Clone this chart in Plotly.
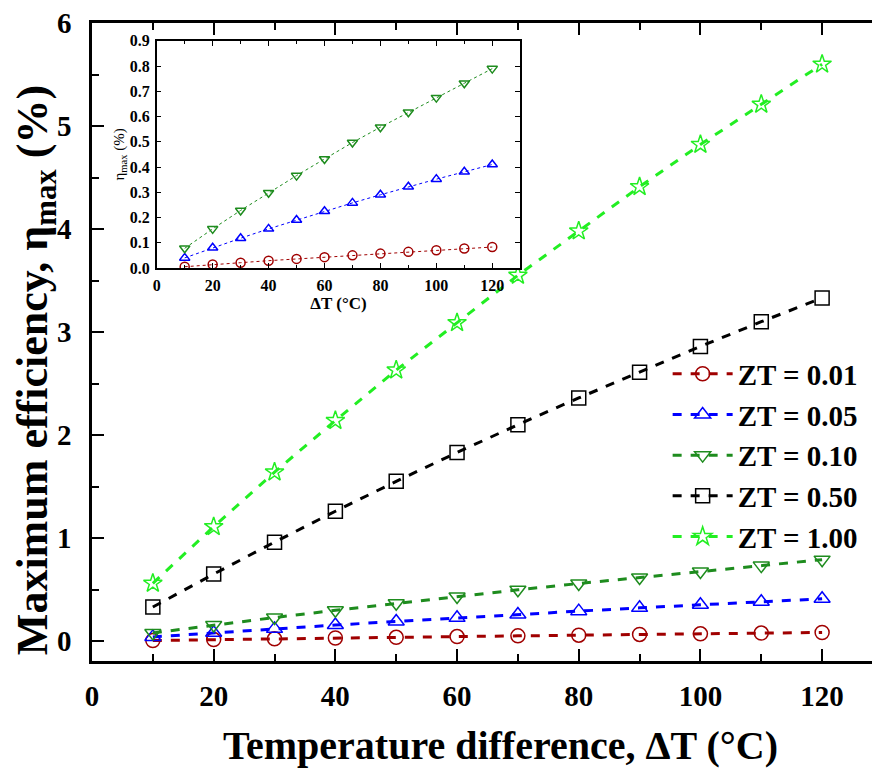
import plotly.graph_objects as go

dT = [10, 20, 30, 40, 50, 60, 70, 80, 90, 100, 110, 120]
eta_001 = [0.005, 0.014, 0.021, 0.029, 0.036, 0.043, 0.050, 0.057, 0.064, 0.070, 0.077, 0.083]
eta_005 = [0.040, 0.080, 0.118, 0.155, 0.190, 0.225, 0.258, 0.290, 0.322, 0.352, 0.381, 0.410]
eta_010 = [0.078, 0.155, 0.228, 0.298, 0.366, 0.432, 0.497, 0.558, 0.617, 0.675, 0.732, 0.790]
eta_050 = [0.33, 0.65, 0.96, 1.26, 1.55, 1.83, 2.10, 2.36, 2.61, 2.86, 3.10, 3.33]
eta_100 = [0.56, 1.11, 1.64, 2.14, 2.63, 3.09, 3.55, 3.98, 4.41, 4.82, 5.21, 5.60]

names = ["ZT = 0.01", "ZT = 0.05", "ZT = 0.10", "ZT = 0.50", "ZT = 1.00"]
series = [eta_001, eta_005, eta_010, eta_050, eta_100]
colors = ["#A00000", "#0000FF", "#1E8C1E", "#000000", "#22EE22"]
symbols = ["circle-open", "triangle-up-open", "triangle-down-open", "square-open", "star-open"]

x_title = "Temperature difference, ΔT (°C)"
y_title = "Maximum efficiency, η<sub>max</sub> (%)"

FONT = "Liberation Serif"
fig = go.Figure()

for n, s, c, m in zip(names, series, colors, symbols):
    fig.add_trace(go.Scatter(
        x=dT, y=s, name=n, mode="lines+markers",
        line=dict(color=c, width=3, dash="dash"),
        marker=dict(symbol=m, size=14, color=c, line=dict(width=1.5, color=c)),
        xaxis="x", yaxis="y"))

for n, s, c, m in zip(names[:3], series[:3], colors[:3], symbols[:3]):
    fig.add_trace(go.Scatter(
        x=dT, y=s, name=n, mode="lines+markers", showlegend=False,
        line=dict(color=c, width=1, dash="dot"),
        marker=dict(symbol=m, size=9, color=c, line=dict(width=1.5, color=c)),
        xaxis="x2", yaxis="y2"))

tickfont_main = dict(family=FONT, size=29, color="black", weight="bold")
fig.update_layout(
    width=872, height=771,
    margin=dict(l=92, r=0, t=23, b=110),
    plot_bgcolor="white", paper_bgcolor="white",
    font=dict(family=FONT, color="black"),
    xaxis=dict(
        range=[0, 128.2], domain=[0, 1],
        tickvals=[0, 20, 40, 60, 80, 100, 120],
        ticks="inside", ticklen=12, tickwidth=2, tickcolor="black",
        minor=dict(tickvals=[10, 30, 50, 70, 90, 110], ticks="inside", ticklen=7, tickwidth=2, tickcolor="black"),
        showline=True, linewidth=2.5, linecolor="black", mirror="ticks",
        showgrid=False, zeroline=False,
        tickfont=tickfont_main, ticklabelstandoff=7,
    ),
    yaxis=dict(
        range=[-0.194, 6.0], domain=[0, 1],
        tickvals=[0, 1, 2, 3, 4, 5, 6],
        ticks="inside", ticklen=12, tickwidth=2, tickcolor="black",
        minor=dict(tickvals=[0.5, 1.5, 2.5, 3.5, 4.5, 5.5], ticks="inside", ticklen=7, tickwidth=2, tickcolor="black"),
        showline=True, linewidth=2.5, linecolor="black", mirror=False,
        showgrid=False, zeroline=False,
        tickfont=tickfont_main, ticklabelstandoff=12,
    ),
    xaxis2=dict(
        anchor="y2", domain=[0.083, 0.549], range=[0, 130],
        tickvals=[0, 20, 40, 60, 80, 100, 120],
        ticks="inside", ticklen=5, tickwidth=1.2, tickcolor="black",
        minor=dict(tickvals=[10, 30, 50, 70, 90, 110], ticks="inside", ticklen=3, tickwidth=1.2, tickcolor="black"),
        showline=True, linewidth=1.5, linecolor="black", mirror="ticks",
        showgrid=False, zeroline=False,
        tickfont=dict(family=FONT, size=16, color="black", weight="bold"), ticklabelstandoff=2,
        title=dict(text="ΔT (°C)", standoff=4,
                   font=dict(family=FONT, size=17, color="black", weight="bold")),
    ),
    yaxis2=dict(
        anchor="x2", domain=[0.616, 0.972], range=[0, 0.9],
        tickvals=[0, 0.1, 0.2, 0.3, 0.4, 0.5, 0.6, 0.7, 0.8, 0.9],
        ticktext=["0.0", "0.1", "0.2", "0.3", "0.4", "0.5", "0.6", "0.7", "0.8", "0.9"],
        ticks="inside", ticklen=5, tickwidth=1.2, tickcolor="black",
        showline=True, linewidth=1.5, linecolor="black", mirror="ticks",
        showgrid=False, zeroline=False,
        tickfont=dict(family=FONT, size=16, color="black", weight="bold"), ticklabelstandoff=2,
        title=dict(text="η<sub>max</sub> (%)", standoff=2,
                   font=dict(family=FONT, size=15, color="black")),
    ),
    legend=dict(
        x=0.738, y=0.49, xanchor="left", yanchor="top",
        bgcolor="rgba(0,0,0,0)", borderwidth=0,
        font=dict(family=FONT, size=29, color="black", weight="bold"),
        itemwidth=60, tracegroupgap=0,
    ),
    showlegend=True,
    annotations=[
        dict(text=x_title, xref="paper", yref="paper", x=0.524, y=-0.132,
             xanchor="center", yanchor="middle", showarrow=False,
             font=dict(family=FONT, size=40, color="black", weight="bold")),
        dict(text=y_title, xref="paper", yref="paper", x=-0.073, y=0.456,
             xanchor="center", yanchor="middle", showarrow=False, textangle=-90,
             font=dict(family=FONT, size=44, color="black", weight="bold")),
    ],
)

fig.write_html("out.html")
